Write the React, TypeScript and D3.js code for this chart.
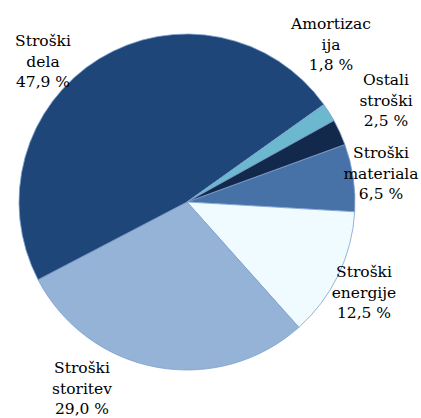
// Pie chart of cost structure (Slovenian labels), drawn with d3.pie / d3.arc
import React from "react";
import * as d3 from "d3";

// slice order clockwise, starting from "Stroški materiala"
const categories = [
  "Stroški materiala",
  "Stroški energije",
  "Stroški storitev",
  "Stroški dela",
  "Amortizacija",
  "Ostali stroški",
];
const shares = [6.5, 12.5, 29.0, 47.9, 1.8, 2.5];
const labelLines = [
  ["Stroški", "materiala", "6,5 %"],
  ["Stroški", "energije", "12,5 %"],
  ["Stroški", "storitev", "29,0 %"],
  ["Stroški", "dela", "47,9 %"],
  ["Amortizac", "ija", "1,8 %"],
  ["Ostali", "stroški", "2,5 %"],
];
const colors = ["#4672a7", "#effbff", "#95b3d7", "#1f4678", "#6bb8cf", "#13294b"];

export default function App() {
  const width = 421;
  const height = 418;
  const cx = 187;
  const cy = 202;
  const radius = 168;

  const pie = d3
    .pie<number>()
    .sort(null)
    .startAngle((70 * Math.PI) / 180)
    .endAngle((430 * Math.PI) / 180);
  const arcs = pie(shares);
  const arc = d3.arc<d3.PieArcDatum<number>>().innerRadius(0).outerRadius(radius);

  // label anchor positions (centre of text block, first baseline)
  const labelPos: [number, number][] = [
    [381, 158],
    [364, 277],
    [82, 373],
    [43, 46],
    [331, 29],
    [386, 85],
  ];

  return (
    <svg
      width={width}
      height={height}
      style={{ position: "absolute", left: 0, top: 0, background: "#fff" }}
    >
      <g transform={`translate(${cx},${cy})`}>
        {arcs.map((a, i) => (
          <path
            key={categories[i]}
            d={arc(a) || ""}
            fill={colors[i]}
            stroke="#7d9fce"
            strokeWidth={0.8}
          />
        ))}
      </g>
      {labelLines.map((lines, i) => (
        <text
          key={categories[i]}
          textAnchor="middle"
          fontFamily="DejaVu Serif"
          fontSize={15.5}
          fill="#000"
        >
          {lines.map((ln, j) => (
            <tspan key={j} x={labelPos[i][0]} y={labelPos[i][1] + j * 20.5}>
              {ln}
            </tspan>
          ))}
        </text>
      ))}
    </svg>
  );
}
